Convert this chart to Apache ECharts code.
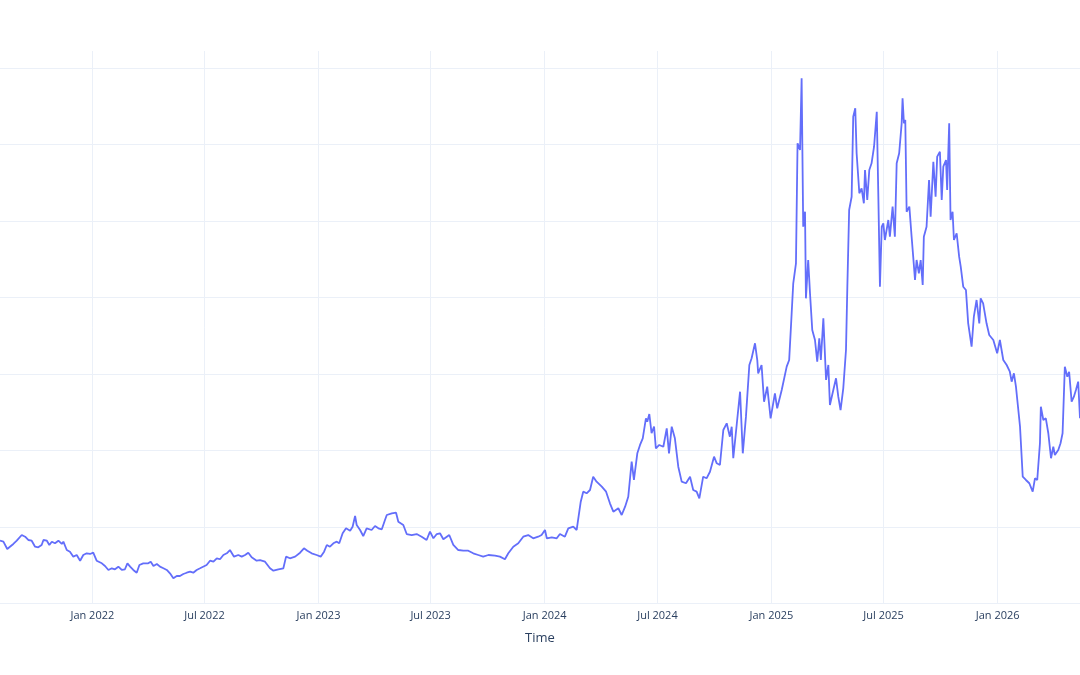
<!DOCTYPE html>
<html><head><meta charset="utf-8">
<script src="https://cdn.jsdelivr.net/npm/echarts@6/dist/echarts.min.js"></script>
<style>html,body{margin:0;padding:0;background:#fff}#c{width:1080px;height:675px}</style>
</head><body><div id="c"></div>
<script>
// time as decimal years
const times = [
2021.592,2021.607,2021.614,2021.624,2021.636,2021.651,2021.666,2021.688,2021.703,2021.717,
2021.732,2021.747,2021.761,2021.776,2021.784,2021.799,2021.810,2021.821,2021.835,2021.850,
2021.865,2021.872,2021.887,2021.901,2021.916,2021.931,2021.946,2021.960,2021.975,2021.990,
2022.004,2022.019,2022.042,2022.056,2022.071,2022.086,2022.100,2022.115,2022.130,2022.144,
2022.155,2022.167,2022.181,2022.196,2022.208,2022.225,2022.247,2022.258,2022.270,2022.285,
2022.299,2022.314,2022.329,2022.343,2022.358,2022.373,2022.387,2022.402,2022.417,2022.432,
2022.446,2022.461,2022.476,
2022.505,2022.520,2022.535,2022.550,2022.564,2022.579,2022.594,2022.608,2022.616,2022.626,
2022.645,2022.660,2022.675,2022.689,2022.704,2022.726,2022.741,2022.763,2022.785,2022.800,
2022.822,2022.844,2022.856,2022.873,2022.896,2022.918,2022.935,2022.950,2022.969,2022.991,
2023.009,2023.024,2023.036,2023.050,2023.065,2023.080,2023.091,2023.106,2023.121,2023.139,
2023.150,2023.161,2023.168,2023.183,2023.197,2023.212,2023.234,2023.249,2023.264,2023.279,
2023.293,2023.301,2023.323,2023.342,2023.352,
2023.374,2023.389,2023.411,2023.433,2023.455,2023.477,2023.492,2023.507,2023.522,2023.536,
2023.551,2023.577,2023.595,2023.617,2023.639,2023.661,2023.683,2023.705,2023.727,2023.750,
2023.779,2023.801,2023.823,2023.838,2023.860,2023.882,2023.904,2023.926,2023.948,2023.970,
2023.985,2024.000,2024.008,2024.030,2024.052,2024.066,2024.088,2024.103,2024.125,2024.140,
2024.147,
2024.158,2024.169,2024.184,2024.199,2024.213,2024.228,2024.251,2024.270,2024.287,2024.302,
2024.324,2024.339,2024.354,2024.368,2024.383,2024.393,2024.408,2024.420,2024.432,2024.446,
2024.452,2024.461,2024.471,2024.482,2024.490,2024.505,2024.523,2024.538,2024.548,2024.560,
2024.574,2024.589,2024.604,2024.623,2024.641,2024.655,2024.670,2024.682,2024.699,2024.714,
2024.729,2024.747,2024.759,2024.773,2024.788,2024.803,2024.817,2024.825,2024.832,2024.847,
2024.862,2024.874,2024.888,2024.903,2024.913,2024.928,2024.938,2024.942,2024.957,2024.968,
2024.982,2024.997,2025.016,2025.026,2025.046,2025.068,2025.079,2025.090,2025.097,2025.109,
2025.116,2025.127,2025.134,2025.141,2025.149,2025.153,2025.163,2025.171,2025.181,2025.193,
2025.203,2025.212,2025.219,2025.230,2025.242,2025.252,2025.259,2025.274,2025.286,2025.296,
2025.306,2025.318,2025.330,2025.336,2025.344,2025.355,2025.362,2025.371,2025.377,2025.389,
2025.399,2025.409,2025.414,2025.424,2025.433,2025.443,2025.454,2025.466,2025.473,2025.480,
2025.488,2025.495,2025.502,2025.517,2025.524,2025.536,2025.546,2025.554,2025.565,2025.576,
2025.580,2025.586,2025.592,2025.598,2025.610,2025.620,2025.627,2025.635,2025.642,2025.652,
2025.660,2025.669,2025.674,2025.686,2025.697,2025.704,2025.716,2025.726,2025.733,2025.745,
2025.753,2025.760,2025.772,2025.777,2025.786,2025.792,2025.801,2025.807,2025.819,2025.830,
2025.837,2025.848,2025.860,2025.870,2025.885,2025.895,2025.907,2025.919,2025.925,2025.936,
2025.951,2025.963,2025.981,2025.998,2026.010,2026.025,2026.040,2026.054,2026.062,2026.072,
2026.081,2026.087,2026.099,2026.111,2026.125,2026.140,2026.155,2026.165,2026.175,2026.187,
2026.191,2026.202,2026.213,2026.224,2026.236,2026.246,2026.253,2026.268,2026.278,2026.287,
2026.297,2026.308,2026.316,2026.327,2026.337,2026.346,2026.356,2026.364
];
const values = [
8.19,8.06,8.28,7.10,7.40,7.76,8.19,8.93,8.71,8.28,
8.19,7.40,7.32,7.63,8.28,8.19,7.63,8.06,7.85,8.19,
7.76,8.06,6.97,6.75,6.10,6.32,5.57,6.32,6.54,6.45,
6.62,5.57,5.23,4.88,4.36,4.58,4.45,4.79,4.36,4.45,
5.23,4.79,4.36,4.00,5.01,5.23,5.23,5.44,4.88,5.14,
4.79,4.58,4.36,3.92,3.27,3.57,3.57,3.83,4.00,4.13,
4.00,4.36,4.58,
5.01,5.57,5.44,5.89,5.76,6.32,6.54,6.97,7.19,6.10,
6.32,6.10,6.32,6.62,6.02,5.57,5.66,5.44,4.58,4.26,
4.45,4.58,6.10,5.89,6.10,6.62,7.19,6.88,6.54,6.32,
6.10,6.75,7.63,7.40,7.85,8.06,7.85,9.16,9.81,9.50,
10.02,11.42,10.24,9.59,8.80,9.81,9.59,10.11,9.81,9.68,
10.90,11.55,11.77,11.85,10.67,
10.24,9.06,8.93,9.06,8.71,8.28,9.37,8.50,9.06,9.16,
8.37,8.93,7.63,6.97,6.88,6.88,6.54,6.32,6.10,6.32,
6.23,6.10,5.76,6.54,7.40,7.85,8.71,8.93,8.50,8.71,
8.93,9.59,8.50,8.63,8.50,9.06,8.71,9.81,10.02,9.59,
9.81,
13.29,14.60,14.39,14.82,16.56,15.91,15.25,14.60,13.08,11.98,
12.43,11.55,12.64,13.94,18.52,16.13,19.62,20.71,21.58,24.20,
23.75,24.76,22.24,23.10,20.27,20.71,20.48,22.89,19.62,23.10,
21.58,17.87,15.91,15.70,16.56,14.82,14.60,13.73,16.56,16.35,
17.21,19.18,18.31,18.09,22.67,23.54,21.79,23.10,18.97,23.32,
27.68,19.62,24.41,31.17,32.05,34.01,31.82,30.08,31.17,26.37,
28.33,24.20,27.47,25.51,27.90,30.95,31.82,37.93,41.86,44.47,
60.17,59.29,68.67,49.26,51.22,39.89,44.90,40.55,35.75,34.44,
31.60,34.66,31.82,37.28,29.21,31.17,25.94,27.90,29.43,27.02,
25.28,28.12,33.13,41.41,51.44,53.18,63.65,64.75,58.86,53.63,
54.28,52.32,56.68,52.75,56.68,57.55,59.72,64.30,53.18,41.41,
49.26,49.70,47.52,50.14,47.95,51.88,47.95,57.55,58.86,62.78,
66.05,62.78,63.22,51.22,51.88,47.95,45.34,42.29,44.90,43.16,
44.90,41.63,47.95,49.26,55.37,50.57,57.76,53.18,58.42,59.07,
52.75,57.11,57.98,54.06,62.78,50.14,51.22,47.52,48.40,45.34,
44.03,41.41,40.98,36.62,33.56,37.49,39.67,36.62,39.89,39.24,
36.62,35.09,34.44,32.70,34.44,31.82,31.17,30.29,28.99,30.08,
28.33,26.59,23.10,16.56,16.13,15.70,14.60,16.35,16.13,20.93,
25.72,23.98,24.20,22.24,18.97,20.48,19.40,20.05,20.93,22.24,
30.95,29.64,30.29,26.37,27.02,27.90,28.99,24.20
];
const xTickDates = ['2022-01-01','2022-07-01','2023-01-01','2023-07-01','2024-01-01','2024-07-01','2025-01-01','2025-07-01','2026-01-01'];
const xTickLabels = ['Jan 2022','Jul 2022','Jan 2023','Jul 2023','Jan 2024','Jul 2024','Jan 2025','Jul 2025','Jan 2026'];
const yGridValues = [0,10,20,30,40,50,60,70];
const xRange = [2021.592, 2026.364];
const yMax = 72.24;

function yearToTs(t){ return Date.UTC(2022,0,1) + (t-2022)*365.25*864e5; }
const xTickTs = xTickDates.map(d => new Date(d + 'T00:00:00Z').getTime());
const n = Math.min(times.length, values.length);
const data = [];
for (let i = 0; i < n; i++) data.push([yearToTs(times[i]), values[i]]);

const font = "'Open Sans', verdana, arial, sans-serif";
const chart = echarts.init(document.getElementById('c'), null, {renderer:'canvas'});
chart.setOption({
  animation: false,
  backgroundColor: '#ffffff',
  grid: {left: 0, right: 0, top: 51, bottom: 71.7, containLabel: false},
  xAxis: {
    type: 'value',
    min: yearToTs(xRange[0]),
    max: yearToTs(xRange[1]),
    name: 'Time',
    nameLocation: 'middle',
    nameGap: 28,
    nameTextStyle: {color: '#2a3f5f', fontSize: 13, fontFamily: font, verticalAlign: 'top'},
    axisLine: {show: false},
    axisTick: {show: false, customValues: xTickTs},
    axisLabel: {
      customValues: xTickTs,
      showMinLabel: true, showMaxLabel: true, hideOverlap: false,
      color: '#2a3f5f', fontSize: 11, fontFamily: font, margin: 7,
      formatter: function(v){
        let best = 0, bd = Infinity;
        xTickTs.forEach((t,i)=>{ const d = Math.abs(t - v); if (d < bd){bd = d; best = i;} });
        return xTickLabels[best];
      }
    },
    splitLine: {show: true, lineStyle: {color: '#EBF0F8', width: 1}}
  },
  yAxis: {
    type: 'value',
    min: 0,
    max: yMax,
    axisLine: {show: false},
    axisTick: {show: false, customValues: yGridValues},
    axisLabel: {show: false, customValues: yGridValues},
    splitLine: {show: true, lineStyle: {color: '#EBF0F8', width: 1}}
  },
  series: [{
    type: 'line',
    data: data,
    showSymbol: false,
    symbol: 'none',
    lineStyle: {color: '#636efa', width: 1.8},
    itemStyle: {color: '#636efa'}
  }]
});
</script></body></html>
